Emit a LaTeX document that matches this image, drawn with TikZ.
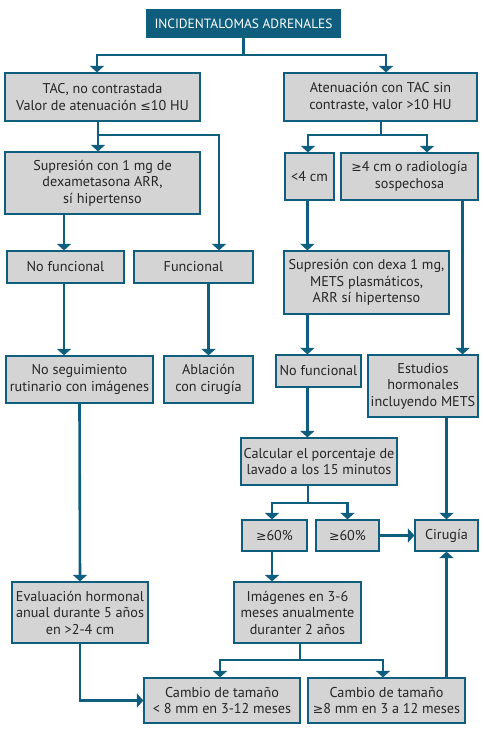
\documentclass[tikz,border=0pt]{standalone}
\usepackage{fontspec}
\setmainfont{PT Sans}
\newfontfamily\symf{DejaVu Sans}[Scale=0.88]
\newcommand{\mygeq}{{\symf ≥}}
\newcommand{\myleq}{{\symf ≤}}
\usetikzlibrary{arrows.meta,calc}
\definecolor{tealc}{RGB}{16,94,125}
\definecolor{boxgray}{RGB}{212,212,212}
\begin{document}
\begin{tikzpicture}[x=1pt,y=-1pt,
 box/.style={draw=tealc, line width=1.2pt, fill=boxgray, align=center, inner sep=0pt,
   font=\fontsize{14.2}{16.5}\selectfont, text=black!85},
 titlebox/.style={fill=tealc, inner sep=0pt, align=center, text=white,
   font=\fontsize{13.4}{16}\selectfont},
 conn/.style={draw=tealc, line width=2.6pt},
 arr/.style={conn, -{Triangle[width=14pt,length=6.5pt]}},
]
\fill[white] (0,0) rectangle (484,731);
\useasboundingbox (0,0) rectangle (484,731);

% nodes
\node[titlebox, minimum width=195pt, minimum height=29pt] (title) at (243.5,23.5) {INCIDENTALOMAS ADRENALES};
\node[box, minimum width=195pt, minimum height=48pt] (tac) at (102.5,97) {TAC, no contrastada\\Valor de atenuación \myleq10 HU};
\node[box, minimum width=193pt, minimum height=48pt] (aten) at (380.5,97) {Atenuación con TAC sin\\contraste, valor >10 HU};
\node[box, minimum width=195pt, minimum height=62pt] (sup1) at (102.5,183) {Supresión con 1 mg de\\dexametasona ARR,\\sí hipertenso};
\node[box, minimum width=49pt, minimum height=47pt] (lt4) at (309.5,176.5) {<4 cm};
\node[box, minimum width=137pt, minimum height=47pt] (ge4) at (409.5,176.5) {\mygeq4 cm o radiología\\sospechosa};
\node[box, minimum width=117pt, minimum height=32pt] (nf1) at (65.5,267) {No funcional};
\node[box, minimum width=119pt, minimum height=32pt] (fun) at (193.5,267) {Funcional};
\node[box, minimum width=165pt, minimum height=63pt] (sup2) at (366.5,282.5) {Supresión con dexa 1 mg,\\METS plasmáticos,\\ARR sí hipertenso};
\node[box, minimum width=147pt, minimum height=47pt] (noseg) at (79.5,379.5) {No seguimiento\\rutinario con imágenes};
\node[box, minimum width=89pt, minimum height=47pt] (abl) at (208.5,379.5) {Ablación\\con cirugía};
\node[box, minimum width=85pt, minimum height=32pt] (nf2) at (318.5,371) {No funcional};
\node[box, minimum width=110pt, minimum height=62pt] (est) at (423,386) {Estudios\\hormonales\\incluyendo METS};
\node[box, minimum width=156pt, minimum height=47pt] (calc) at (319,461.5) {Calcular el porcentaje de\\lavado a los 15 minutos};
\node[box, minimum width=65pt, minimum height=31pt] (g60a) at (274.5,535.5) {\mygeq60\%};
\node[box, minimum width=63pt, minimum height=31pt] (g60b) at (347.5,535.5) {\mygeq60\%};
\node[box, minimum width=63pt, minimum height=31pt] (cir) at (446.5,535.5) {Cirugía};
\node[box, minimum width=136pt, minimum height=61pt] (eval) at (80,612.5) {Evaluación hormonal\\anual durante 5 años\\en >2-4 cm};
\node[box, minimum width=127pt, minimum height=61pt] (img) at (297.5,612.5) {Imágenes en 3-6\\meses anualmente\\duranter 2 años};
\node[box, minimum width=156pt, minimum height=45pt] (cam1) at (222,700.5) {Cambio de tamaño\\< 8 mm en 3-12 meses};
\node[box, minimum width=157pt, minimum height=45pt] (cam2) at (386.5,700.5) {Cambio de tamaño\\\mygeq8 mm en 3 a 12 meses};

% entry / exit points and junctions
\coordinate (j1) at (243.5,55);
\coordinate (tacIn) at ([xshift=-5.5pt]tac.north);
\coordinate (atenIn) at ([xshift=5.5pt]aten.north);
\coordinate (j2) at (98,135);
\coordinate (sup1In) at ([xshift=-4.5pt]sup1.north);
\coordinate (funIn) at ([xshift=25.5pt]fun.north);
\coordinate (nf1In) at ([xshift=-1.5pt]nf1.north);
\coordinate (j3) at (381,135);
\coordinate (lt4In) at ([xshift=-1.5pt]lt4.north);
\coordinate (ge4In) at ([xshift=17.5pt]ge4.north);
\coordinate (estIn) at ([xshift=-16pt]est.north east);
\coordinate (nf2In) at ([xshift=32pt]nf2.north west);
\coordinate (j4) at (308,503);
\coordinate (g60aIn) at ([xshift=-2.5pt]g60a.north);
\coordinate (j5) at (300,660);
\coordinate (cam1In) at ([xshift=-2pt]cam1.north);
\coordinate (cam2In) at ([xshift=-3.5pt]cam2.north);

% connectors
\draw[conn] (title.south) -- (j1);
\draw[arr] (j1) -| (tacIn);
\draw[arr] (j1) -| (atenIn);
\draw[conn] (tac.south -| j2) -- (j2);
\draw[arr] (j2) -- (sup1In);
\draw[arr] (j2) -| (funIn);
\draw[arr] (sup1.south -| nf1In) -- (nf1In);
\draw[arr] (nf1.south -| nf1In) -- (nf1In |- noseg.north);
\draw[arr] (fun.south -| abl.north) -- (abl.north);
\draw[arr] (noseg.south) -- (eval.north);
\draw[arr] (eval.south) |- (cam1.west);
\draw[conn] (aten.south -| j3) -- (j3);
\draw[arr] (j3) -| (lt4In);
\draw[arr] (j3) -| (ge4In);
\draw[arr] (lt4.south -| nf2In) -- (nf2In |- sup2.north);
\draw[arr] (ge4.south -| estIn) -- (estIn);
\draw[arr] (sup2.south -| nf2In) -- (nf2In);
\draw[arr] (nf2.south -| nf2In) -- (nf2In |- calc.north);
\draw[conn] (calc.south -| j4) -- (j4);
\draw[arr] (j4) -| (g60aIn);
\draw[arr] (j4) -| (g60b.north);
\draw[arr] (g60b.east) -- (cir.west);
\draw[arr] (est.south -| cir.north) -- (cir.north);
\draw[arr] (g60a.south -| g60aIn) -- (g60aIn |- img.north);
\draw[conn] (img.south -| j5) -- (j5);
\draw[arr] (j5) -| (cam1In);
\draw[arr] (j5) -| (cam2In);
\draw[arr] (cam2.north -| cir.south) -- (cir.south);
\end{tikzpicture}
\end{document}
